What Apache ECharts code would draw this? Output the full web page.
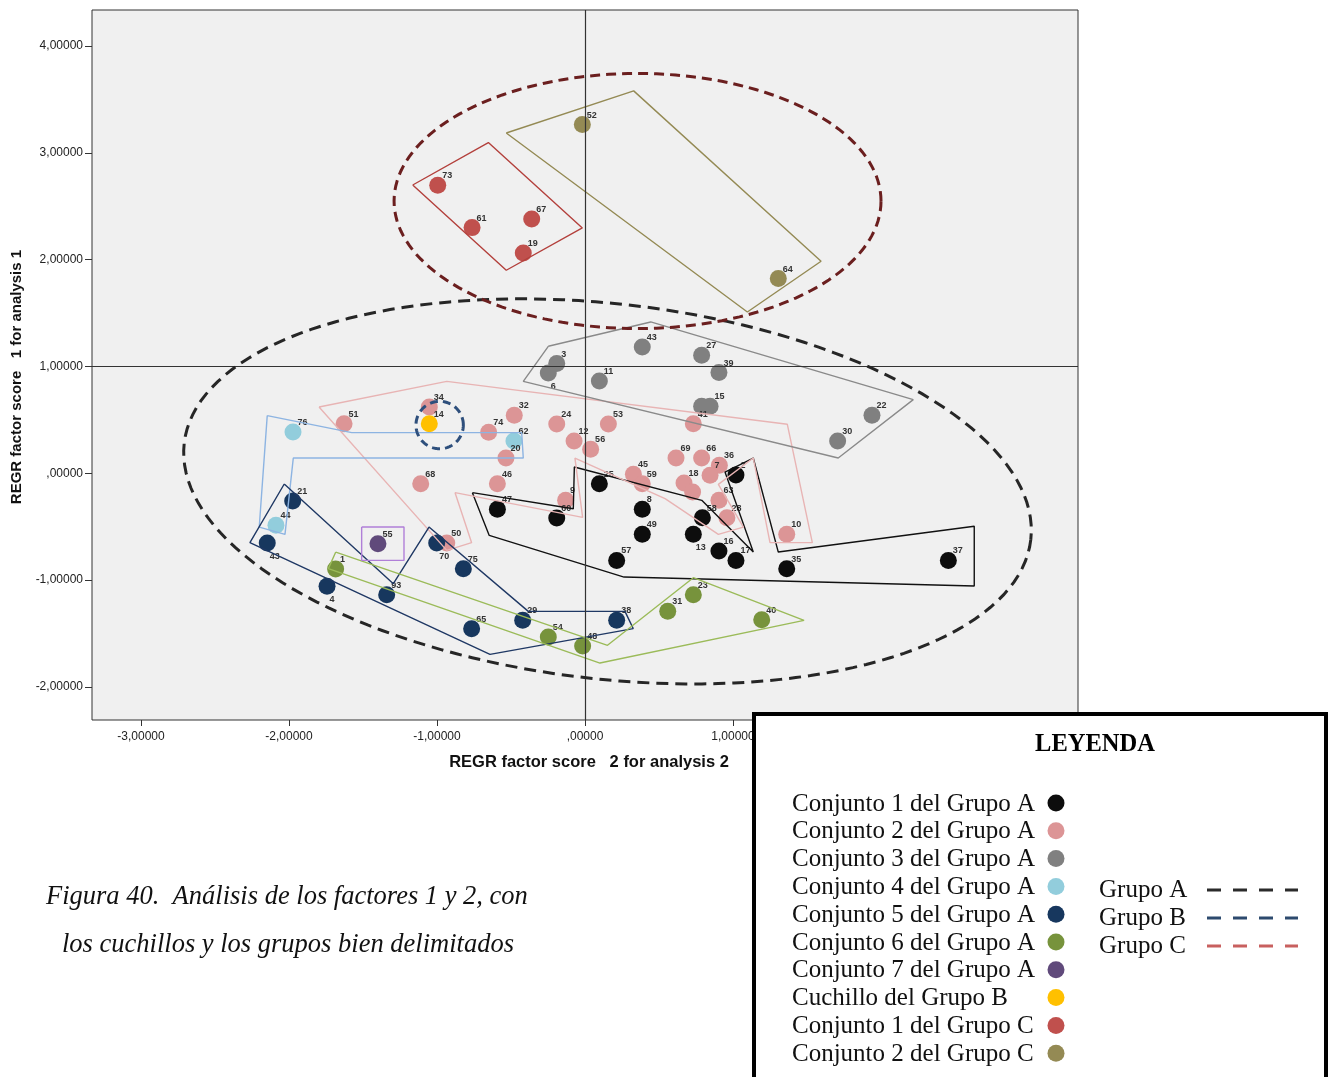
<!DOCTYPE html>
<html><head><meta charset="utf-8">
<script src="https://cdn.jsdelivr.net/npm/echarts@6/dist/echarts.min.js"></script>
<style>html,body{margin:0;padding:0;background:#fff}#c{width:1333px;height:1077px}</style>
</head><body><div id="c"></div>
<script>
// ---------- axis data ----------
const xTickValues = [-3, -2, -1, 0, 1, 2, 3];
const yTickValues = [-2, -1, 0, 1, 2, 3, 4];
const xRange = [-3.331, 3.331];
const yRange = [-2.309, 4.337];
const refLineY = 1;
const refLineX = 0;
const xTitle = 'REGR factor score   2 for analysis 2';
const yTitle = 'REGR factor score   1 for analysis 1';

// ---------- points [x, y, label] ----------
const conjunto1A = [[-0.592,-0.337,'47'],[-0.191,-0.418,'60'],[0.097,-0.097,'25'],[0.387,-0.337,'8'],[0.387,-0.571,'49'],[0.214,-0.815,'57'],[0.793,-0.415,'58'],[0.732,-0.571,'13'],[0.905,-0.727,'16'],[1.020,-0.815,'17'],[1.363,-0.893,'35'],[1.020,-0.016,'2'],[2.455,-0.815,'37']];
const conjunto2A = [[-1.052,0.621,'34'],[-1.628,0.465,'51'],[-0.651,0.384,'74'],[-0.478,0.543,'32'],[-0.534,0.143,'20'],[-0.191,0.462,'24'],[-0.074,0.303,'12'],[0.038,0.225,'56'],[-1.110,-0.097,'68'],[-0.592,-0.097,'46'],[-0.131,-0.253,'9'],[-0.934,-0.652,'50'],[0.158,0.462,'53'],[0.732,0.465,'41'],[0.615,0.143,'69'],[0.788,0.143,'66'],[0.908,0.075,'36'],[0.845,-0.019,'7'],[0.327,-0.009,'45'],[0.387,-0.097,'59'],[0.669,-0.091,'18'],[0.727,-0.175,''],[0.905,-0.253,'63'],[0.959,-0.415,'28'],[1.363,-0.571,'10']];
const conjunto3A = [[-0.191,1.027,'3'],[-0.248,0.939,'6'],[0.387,1.183,'43'],[0.788,1.105,'27'],[0.905,0.943,'39'],[0.097,0.864,'11'],[0.788,0.627,''],[0.845,0.627,'15'],[1.939,0.543,'22'],[1.707,0.303,'30']];
const conjunto4A = [[-1.973,0.387,'76'],[-0.480,0.303,'62'],[-2.088,-0.487,'44']];
const conjunto5A = [[-1.975,-0.259,'21'],[-2.147,-0.652,'43'],[-1.002,-0.652,'70'],[-0.822,-0.893,'75'],[-1.743,-1.058,'4'],[-1.340,-1.136,'93'],[-0.766,-1.454,'65'],[-0.421,-1.376,'29'],[0.214,-1.376,'38']];
const conjunto6A = [[-1.685,-0.896,'1'],[-0.248,-1.532,'54'],[-0.016,-1.617,'48'],[0.732,-1.136,'23'],[0.559,-1.292,'31'],[1.194,-1.370,'40']];
const conjunto7A = [[-1.399,-0.659,'55']];
const cuchilloB = [[-1.052,0.465,'14']];
const conjunto1C = [[-0.995,2.697,'73'],[-0.763,2.300,'61'],[-0.360,2.380,'67'],[-0.417,2.063,'19']];
const conjunto2C = [[-0.018,3.265,'52'],[1.306,1.823,'64']];

// labels drawn under their point instead of above-right
const labelsBelow = ['4|43', '4|70', '4|4', '0|13', '2|6'];

// ---------- set outlines (data units) ----------
const polyConj1A = [[-0.761,-0.181],[-0.079,-0.331],[-0.072,0.059],[0.789,-0.253],[1.137,-0.737],[0.946,0.012],[1.137,0.143],[1.306,-0.737],[2.630,-0.496],[2.630,-1.055],[0.264,-0.971],[-0.647,-0.581]];
const polyConj2A = [[-1.797,0.621],[-0.934,0.861],[1.367,0.459],[1.536,-0.649],[1.250,-0.649],[1.137,0.143],[0.901,-0.103],[1.070,-0.503],[0.901,-0.571],[0.541,-0.237],[-0.068,0.143],[-0.016,-0.412],[-0.878,-0.181],[-0.766,-0.649],[-0.934,-0.721]];
const polyConj3A = [[-0.248,1.189],[0.444,1.417],[2.218,0.690],[1.711,0.143],[-0.417,0.861]];
const polyConj4A = [[-2.147,0.540],[-1.576,0.381],[-0.428,0.381],[-0.417,0.143],[-1.971,0.143],[-2.027,-0.571],[-2.201,-0.503]];
const polyConj5A = [[-2.032,-0.100],[-1.295,-1.033],[-1.054,-0.503],[-0.383,-1.292],[0.270,-1.292],[0.326,-1.454],[-0.642,-1.695],[-2.264,-0.649]];
const polyConj6A = [[-1.684,-0.737],[0.152,-1.610],[0.732,-0.977],[1.480,-1.376],[0.101,-1.776],[-1.734,-0.892]];
const polyConj7A = [[-1.509,-0.503],[-1.223,-0.503],[-1.223,-0.815],[-1.509,-0.815]];
const polyConj1C = [[-1.164,2.699],[-0.653,3.096],[-0.018,2.297],[-0.532,1.901]];
const polyConj2C = [[-0.532,3.186],[0.329,3.580],[1.595,1.985],[1.097,1.510]];

// group ellipses: centre (x,y) and two conjugate semi-axes (data units)
const ellipseGrupoA = [0.152, -0.169, 2.860, -0.4515, -0.1435, -1.745];
const ellipseGrupoB = [-0.982, 0.452, 0.160, 0, 0, 0.222];
const ellipseGrupoC = [0.355, 2.549, 1.645, 0, 0, 1.194];

// ---------- legend ----------
const legendTitle = 'LEYENDA';
const legendLabels = ['Conjunto 1 del Grupo A','Conjunto 2 del Grupo A','Conjunto 3 del Grupo A','Conjunto 4 del Grupo A','Conjunto 5 del Grupo A','Conjunto 6 del Grupo A','Conjunto 7 del Grupo A','Cuchillo del Grupo B','Conjunto 1 del Grupo C','Conjunto 2 del Grupo C'];
const groupLabels = ['Grupo A','Grupo B','Grupo C'];
const captionLines = ['Figura 40.  Análisis de los factores 1 y 2, con','los cuchillos y los grupos bien delimitados'];

// ---------- styles ----------
const pointColors = ['#0d0d0d','#dc9596','#808080','#92cddc','#17375e','#77933c','#604a7b','#ffc000','#c0504d','#948a54'];
const polyColors = ['#111111','#e8b4b4','#8a8a8a','#8db4e2','#1f3864','#9bbb59','#b07fd8','#b3403c','#948a54'];
const groupLegendColors = ['#2b2b2b','#2d4a6e','#c8605f'];
const ellipseColors = ['#262626','#2e4f7c','#6b1f1f'];

const pointSets = [conjunto1A,conjunto2A,conjunto3A,conjunto4A,conjunto5A,conjunto6A,conjunto7A,cuchilloB,conjunto1C,conjunto2C];
const polySets = [polyConj1A,polyConj2A,polyConj3A,polyConj4A,polyConj5A,polyConj6A,polyConj7A,polyConj1C,polyConj2C];
const ellipses = [ellipseGrupoA, ellipseGrupoB, ellipseGrupoC];

function fmt(v){
  const a = Math.abs(v);
  let s = a.toFixed(5).replace('.', ',');
  if (a < 1) s = s.replace(/^0/, '');
  return (v < 0 ? '-' : '') + s;
}

const series = [];
// reference lines
series.push({
  type:'line', data:[], silent:true,
  markLine:{ silent:true, symbol:'none', animation:false, label:{show:false},
    lineStyle:{color:'#333', width:1.2, type:'solid'},
    data:[{yAxis: refLineY}, {xAxis: refLineX}] }
});
// points
pointSets.forEach((set, si) => {
  series.push({
    type:'scatter', name: legendLabels[si], symbolSize:17, z:3,
    itemStyle:{color: pointColors[si], opacity:1},
    data: set.map(p => {
      const below = labelsBelow.indexOf(si + '|' + p[2]) >= 0;
      const d = {value:[p[0], p[1]], name:p[2]};
      if (below) d.label = {position:[11, 22]};
      return d;
    }),
    label:{show:true, formatter: pr => pr.name, position:[13, -1], align:'left', verticalAlign:'middle',
      fontSize:9, fontWeight:'bold', color:'#333', fontFamily:'"Liberation Sans", Arial'}
  });
});
// outlines
polySets.forEach((poly, pi) => {
  series.push({
    type:'line', data: poly.concat([poly[0]]), symbol:'none', z:4, silent:true,
    lineStyle:{color: polyColors[pi], width:1.4}
  });
});
// ellipses
const ellipseDash = [[12,7],[8,5],[10,6]];
series.push({
  type:'custom', z:5, silent:true, clip:true,
  data: ellipses.map((e, i) => e.concat([i])),
  renderItem: (params, api) => {
    const cx = api.value(0), cy = api.value(1), ux = api.value(2), uy = api.value(3), vx = api.value(4), vy = api.value(5), i = api.value(6);
    const pts = [];
    for (let k = 0; k <= 160; k++) {
      const t = k / 160 * Math.PI * 2;
      pts.push(api.coord([cx + ux*Math.cos(t) + vx*Math.sin(t), cy + uy*Math.cos(t) + vy*Math.sin(t)]));
    }
    return {type:'polyline', shape:{points:pts},
      style:{fill:null, stroke: ellipseColors[i], lineWidth: 3, lineDash: ellipseDash[i]}};
  }
});

// graphic: titles, legend, caption
const graphic = [];
graphic.push({type:'text', x:17, y:377, rotation:Math.PI/2, z:10,
  style:{text:yTitle, font:'bold 15px "Liberation Sans", Arial', fill:'#111', align:'center', verticalAlign:'middle'}});
graphic.push({type:'text', x:589, y:762, z:10,
  style:{text:xTitle, font:'bold 16.5px "Liberation Sans", Arial', fill:'#111', align:'center', verticalAlign:'middle'}});
graphic.push({type:'rect', z:100, shape:{x:754, y:714, width:572, height:400},
  style:{fill:'#fff', stroke:'#000', lineWidth:4}});
graphic.push({type:'text', z:101, x:1095, y:745,
  style:{text:legendTitle, font:'bold 24.5px "Liberation Serif", "Times New Roman", serif', fill:'#000', align:'center', verticalAlign:'middle'}});
legendLabels.forEach((t, i) => {
  const y = 804 + i * 27.8;
  graphic.push({type:'text', z:101, x:792, y:y,
    style:{text:t, font:'25px "Liberation Serif", "Times New Roman", serif', fill:'#111', align:'left', verticalAlign:'middle'}});
  graphic.push({type:'circle', z:101, shape:{cx:1056, cy:y - 1, r:8.5}, style:{fill: pointColors[i]}});
});
groupLabels.forEach((t, i) => {
  const y = 890 + i * 28;
  graphic.push({type:'text', z:101, x:1099, y:y,
    style:{text:t, font:'25px "Liberation Serif", "Times New Roman", serif', fill:'#111', align:'left', verticalAlign:'middle'}});
  graphic.push({type:'line', z:101, shape:{x1:1207, y1:y, x2:1298, y2:y},
    style:{stroke: groupLegendColors[i], lineWidth:3, lineDash:[14,12]}});
});
graphic.push({type:'text', z:10, x:46, y:897,
  style:{text:captionLines[0], font:'italic 26.5px "Liberation Serif", "Times New Roman", serif', fill:'#111', align:'left', verticalAlign:'middle'}});
graphic.push({type:'text', z:10, x:62, y:945,
  style:{text:captionLines[1], font:'italic 26.5px "Liberation Serif", "Times New Roman", serif', fill:'#111', align:'left', verticalAlign:'middle'}});

const chart = echarts.init(document.getElementById('c'), null, {renderer:'canvas'});
chart.setOption({
  animation:false,
  backgroundColor:'#ffffff',
  grid:{left:92, top:10, width:986, height:710, show:true, backgroundColor:'#f0f0f0', borderColor:'#333', borderWidth:1},
  xAxis:{type:'value', min:xRange[0], max:xRange[1],
    axisLine:{show:false, onZero:false}, splitLine:{show:false},
    axisTick:{show:true, customValues:xTickValues, length:6, inside:false, lineStyle:{color:'#333'}},
    axisLabel:{customValues:xTickValues, formatter:fmt, fontSize:12, color:'#222', margin:11, fontFamily:'"Liberation Sans", Arial'}},
  yAxis:{type:'value', min:yRange[0], max:yRange[1],
    axisLine:{show:false, onZero:false}, splitLine:{show:false},
    axisTick:{show:true, customValues:yTickValues, length:7, inside:false, lineStyle:{color:'#333'}},
    axisLabel:{customValues:yTickValues, formatter:fmt, fontSize:12, color:'#222', margin:9, fontFamily:'"Liberation Sans", Arial'}},
  series: series,
  graphic: graphic
});
</script></body></html>
